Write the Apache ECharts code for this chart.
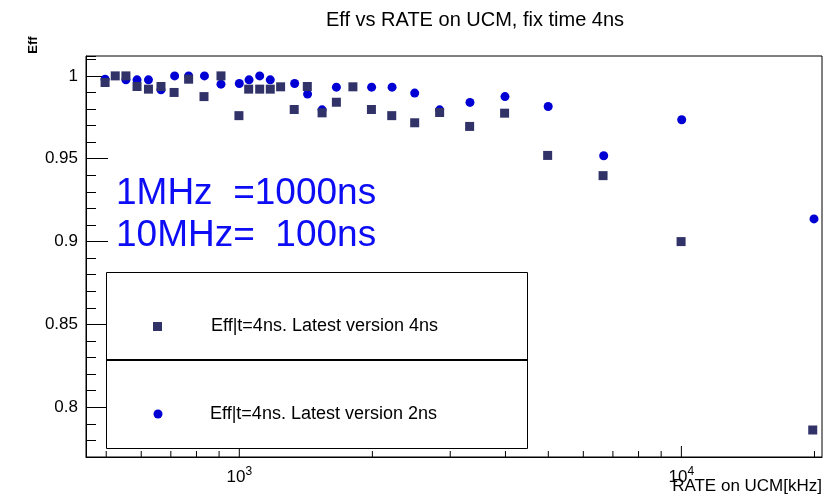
<!DOCTYPE html>
<html>
<head>
<meta charset="utf-8">
<script src="https://cdn.jsdelivr.net/npm/echarts@6/dist/echarts.min.js"></script>
<style>
html,body{margin:0;padding:0;background:#fff;}
#chart{width:825px;height:494px;}
</style>
</head>
<body>
<div id="chart"></div>
<script>
// ---- data (RATE on UCM [kHz], Eff) ----
var ver4nsRate = [497, 524, 554, 587, 623, 665, 712, 768, 832, 909, 998, 1050, 1112, 1175, 1240, 1331, 1425, 1539, 1658, 1807, 1990, 2212, 2493, 2839, 3319, 3982, 4983, 6650, 9984, 19820];
var ver4nsEff  = [0.996, 1.000, 1.000, 0.9936, 0.992, 0.9936, 0.990, 0.998, 0.9875, 1.000, 0.976, 0.992, 0.992, 0.992, 0.9934, 0.9797, 0.9936, 0.9777, 0.9841, 0.9934, 0.9797, 0.976, 0.9717, 0.9779, 0.9695, 0.9775, 0.952, 0.9398, 0.900, 0.7863];
var ver2nsRate = [497, 554, 587, 623, 665, 714, 768, 834, 909, 1000, 1052, 1112, 1175, 1334, 1427, 1539, 1658, 1992, 2216, 2493, 2839, 3325, 3990, 4997, 6672, 10016, 19950];
var ver2nsEff  = [0.998, 0.9976, 0.9976, 0.9976, 0.9916, 1.000, 1.000, 1.000, 0.995, 0.9954, 0.9976, 1.000, 0.9976, 0.9954, 0.989, 0.9795, 0.9932, 0.9932, 0.9932, 0.9896, 0.9795, 0.984, 0.9875, 0.9815, 0.9518, 0.9735, 0.9137];
var xMajorTicks = [1000, 10000];
var xMinorTicks = [500, 600, 700, 800, 900, 2000, 3000, 4000, 5000, 6000, 7000, 8000, 9000, 20000];
var seriesNames = ['Eff|t=4ns. Latest version 4ns', 'Eff|t=4ns. Latest version 2ns'];
var titleText = 'Eff vs RATE on UCM, fix time 4ns';
var noteLines = ['1MHz  =1000ns', '10MHz=  100ns'];
var xTitle = 'RATE on UCM[kHz]';
var yTitle = 'Eff';

var X_MIN = 450, X_MAX = 20800, Y_MIN = 0.77, Y_MAX = 1.012;
var SQ_COLOR = '#303268', CI_COLOR = '#0000d4';
var FONT = 'Liberation Sans, Arial, Helvetica, sans-serif';

function zip(a, b) { return a.map(function (v, i) { return [v, b[i]]; }); }
function tickData(arr) { return arr.map(function (v) { return [v]; }); }

function tickRenderer(len) {
  return function (params, api) {
    var p = api.coord([api.value(0), Y_MIN]);
    return {
      type: 'line',
      shape: { x1: p[0], y1: p[1], x2: p[0], y2: p[1] - len },
      style: { stroke: '#000', lineWidth: 1 }
    };
  };
}

var chart = echarts.init(document.getElementById('chart'), null, { renderer: 'canvas' });
chart.setOption({
  animation: false,
  backgroundColor: '#fff',
  textStyle: { fontFamily: FONT },
  grid: { left: 86, top: 56, right: 3, bottom: 37, containLabel: false, outerBoundsMode: 'none', show: true, borderColor: '#000', borderWidth: 1, backgroundColor: 'transparent' },
  xAxis: {
    type: 'log', logBase: 10, min: X_MIN, max: X_MAX,
    axisLine: { show: true, lineStyle: { color: '#000', width: 1 } },
    axisTick: { show: false },
    splitLine: { show: false },
    axisLabel: {
      showMinLabel: false, showMaxLabel: false, margin: 9,
      color: '#000', fontFamily: FONT, fontSize: 17,
      formatter: function (v) {
        var e = Math.round(Math.log10(v));
        if (Math.abs(Math.pow(10, e) - v) > 1e-6 * v) return '';
        return '10{sup|' + e + '}';
      },
      rich: { sup: { fontSize: 12, verticalAlign: 'top', padding: [0, 0, 10, 0], fontFamily: FONT, color: '#000' } }
    }
  },
  yAxis: [{
    type: 'value', min: Y_MIN, max: Y_MAX, splitNumber: 5,
    axisLine: { show: true, lineStyle: { color: '#000', width: 1 } },
    axisTick: { show: true, inside: true, length: 22, lineStyle: { color: '#000' } },
    splitLine: { show: false },
    axisLabel: { showMinLabel: false, showMaxLabel: false, color: '#000', fontSize: 17, fontFamily: FONT, margin: 8 }
  }, {
    type: 'value', min: Y_MIN, max: Y_MAX, interval: 0.01, position: 'left',
    axisLine: { show: false },
    axisTick: { show: true, inside: true, length: 10, lineStyle: { color: '#000' } },
    axisLabel: { show: false },
    splitLine: { show: false }
  }],
  series: [{
    name: seriesNames[1], type: 'scatter', symbol: 'circle', symbolSize: 9,
    itemStyle: { color: CI_COLOR, opacity: 1 }, data: zip(ver2nsRate, ver2nsEff), z: 3
  }, {
    name: seriesNames[0], type: 'scatter', symbol: 'rect', symbolSize: 9,
    itemStyle: { color: SQ_COLOR, opacity: 1 }, data: zip(ver4nsRate, ver4nsEff), z: 4
  }, {
    type: 'custom', silent: true, renderItem: tickRenderer(11), data: tickData(xMajorTicks), z: 5
  }, {
    type: 'custom', silent: true, renderItem: tickRenderer(6), data: tickData(xMinorTicks), z: 5
  }],
  graphic: [
    { type: 'text', x: 475, y: 20, style: { text: titleText, font: '20px ' + FONT, fill: '#000', align: 'center', verticalAlign: 'middle' } },
    { type: 'text', x: 33, y: 45, rotation: Math.PI / 2, style: { text: yTitle, font: 'bold 13px ' + FONT, fill: '#000', align: 'center', verticalAlign: 'middle' } },
    { type: 'text', x: 822, y: 486, style: { text: xTitle, font: '17px ' + FONT, fill: '#000', align: 'right', verticalAlign: 'middle' } },
    { type: 'text', x: 116, y: 194, style: { text: noteLines[0], font: '37px ' + FONT, fill: '#0c0cf5', align: 'left', verticalAlign: 'middle' } },
    { type: 'text', x: 116, y: 236, style: { text: noteLines[1], font: '37px ' + FONT, fill: '#0c0cf5', align: 'left', verticalAlign: 'middle' } },
    { type: 'rect', shape: { x: 106.5, y: 272.5, width: 421, height: 176 }, style: { fill: '#fff', stroke: '#000', lineWidth: 1 }, z: 10 },
    { type: 'line', shape: { x1: 106, y1: 360, x2: 528, y2: 360 }, style: { stroke: '#000', lineWidth: 2 }, z: 11 },
    { type: 'rect', shape: { x: 153, y: 322, width: 9, height: 9 }, style: { fill: SQ_COLOR }, z: 11 },
    { type: 'text', x: 211, y: 326, style: { text: seriesNames[0], font: '18px ' + FONT, fill: '#000', align: 'left', verticalAlign: 'middle' }, z: 11 },
    { type: 'circle', shape: { cx: 158, cy: 414, r: 4.5 }, style: { fill: CI_COLOR }, z: 11 },
    { type: 'text', x: 210, y: 414, style: { text: seriesNames[1], font: '18px ' + FONT, fill: '#000', align: 'left', verticalAlign: 'middle' }, z: 11 }
  ]
});
</script>
</body>
</html>
